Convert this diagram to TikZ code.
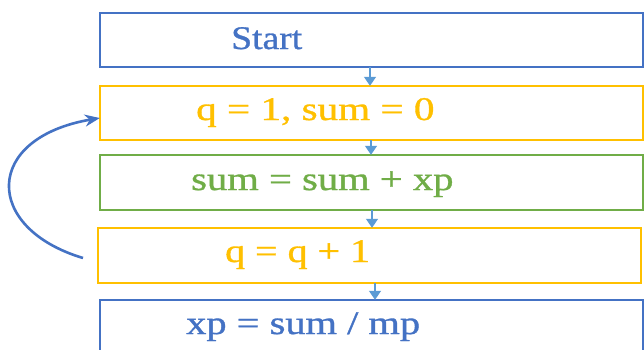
\documentclass[tikz,border=0pt]{standalone}
\usepackage{fontspec}
\setmainfont{Liberation Serif}[FakeBold=0.9]
\usetikzlibrary{arrows.meta}
\definecolor{cblue}{HTML}{4472C4}
\definecolor{cyel}{HTML}{FFC000}
\definecolor{cgreen}{HTML}{70AD47}
\definecolor{carrow}{HTML}{5B9BD5}
\newcommand{\wtxt}[2]{\scalebox{#1}[1]{#2}}
\begin{document}
\begin{tikzpicture}[x=1pt,y=-1pt,
  boxs/.style={draw,line width=2.6pt,inner sep=0pt},
  txt/.style={inner sep=0pt,anchor=base west,font=\fontsize{33}{33}\selectfont},
  link/.style={draw=carrow,line width=1.2pt,-{Triangle[length=9pt,width=12pt]}}]
\useasboundingbox (0,0) rectangle (644,349);
\clip (0,0) rectangle (644,349);
\fill[white] (0,0) rectangle (644,349);
% boxes
\path[boxs,draw=cblue] (100,13) rectangle (643,67);
\node[minimum width=543pt,minimum height=54pt,inner sep=0pt] (b1) at (371.5,40) {};
\path[boxs,draw=cyel] (100,86) rectangle (643,140);
\node[minimum width=543pt,minimum height=54pt,inner sep=0pt] (b2) at (371.5,113) {};
\path[boxs,draw=cgreen] (100,155) rectangle (643,210);
\node[minimum width=543pt,minimum height=55pt,inner sep=0pt] (b3) at (371.5,182.5) {};
\path[boxs,draw=cyel] (98,228) rectangle (641,283);
\node[minimum width=543pt,minimum height=55pt,inner sep=0pt] (b4) at (369.5,255.5) {};
\path[boxs,draw=cblue] (100,300) rectangle (643,365);
\node[minimum width=543pt,minimum height=65pt,inner sep=0pt] (b5) at (371.5,332.5) {};
% texts
\node[txt,text=cblue] (t1) at (231,49) {\wtxt{1.14}{Start}};
\node[txt,text=cyel] (t2) at (196,120) {\wtxt{1.246}{q = 1, sum = 0}};
\node[txt,text=cgreen] (t3) at (191,190) {\wtxt{1.23}{sum = sum + xp}};
\node[txt,text=cyel] (t4) at (225,262) {\wtxt{1.21}{q = q + 1}};
\node[txt,text=cblue] (t5) at (186,334) {\wtxt{1.225}{xp = sum / mp}};
% arrows
\draw[link] ([xshift=-1.5pt]b1.south) -- ([xshift=-1.5pt]b2.north);
\draw[link] ([xshift=-0.5pt]b2.south) -- ([xshift=-0.5pt]b3.north);
\draw[link] ([xshift=0.5pt]b3.south) -- ([xshift=2.5pt]b4.north);
\draw[link] ([xshift=5.5pt]b4.south) -- ([xshift=3.5pt]b5.north);
% loop
\coordinate (ls) at (83,258);
\draw[cblue,line width=2.6pt,-{Stealth[length=15pt,width=12pt]}] (ls) .. controls (-17,228) and (-17,138) .. ([yshift=-5pt]b2.west);
\end{tikzpicture}
\end{document}
